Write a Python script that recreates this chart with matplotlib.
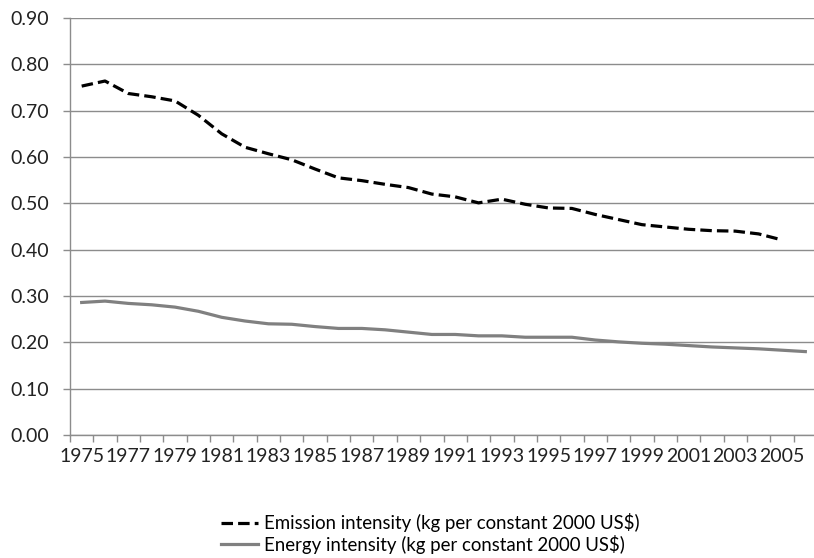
import matplotlib
matplotlib.use("Agg")
import matplotlib.pyplot as plt
import numpy as np

plt.rcParams['font.family'] = ['Lato', 'DejaVu Sans']

# Data
years = list(range(1975, 2007))
emission = [0.753, 0.764, 0.737, 0.730, 0.721, 0.690, 0.650, 0.621, 0.607, 0.594,
            0.574, 0.555, 0.549, 0.541, 0.534, 0.520, 0.514, 0.501, 0.509, 0.498,
            0.490, 0.489, 0.476, 0.465, 0.454, 0.449, 0.444, 0.441, 0.440, 0.434,
            0.421, np.nan]
energy = [0.286, 0.289, 0.284, 0.281, 0.276, 0.267, 0.254, 0.246, 0.240, 0.239,
          0.234, 0.230, 0.230, 0.227, 0.222, 0.217, 0.217, 0.214, 0.214, 0.211,
          0.211, 0.211, 0.205, 0.201, 0.198, 0.196, 0.193, 0.190, 0.188, 0.186,
          0.183, 0.180]
y_ticks = [0.0, 0.1, 0.2, 0.3, 0.4, 0.5, 0.6, 0.7, 0.8, 0.9]
emission_label = "Emission intensity (kg per constant 2000 US$)"
energy_label = "Energy intensity (kg per constant 2000 US$)"

fig = plt.figure(figsize=(8.14, 5.58), dpi=100)
W, H = 814, 558
ax = fig.add_axes([70 / W, (H - 435) / H, 747 / W, 417 / H])

grid_col = '#8c8c8c'
fs = 14
l1, = ax.plot(years, emission, color='black', lw=2.3, dashes=(3.6, 1.6),
              label=emission_label)
l2, = ax.plot(years, energy, color='#808080', lw=2.3, label=energy_label)

ax.set_xlim(1974.5, 2006.5)
ax.set_ylim(0, 0.9)
ax.set_yticks(y_ticks)
ax.set_yticklabels([f"{v:.2f}" for v in y_ticks])
ax.yaxis.grid(True, color=grid_col, lw=1)
ax.set_axisbelow(True)

# ticks at category boundaries, labels every other year at centres
ax.set_xticks(np.arange(1974.5, 2007, 1.0))
ax.set_xticklabels([])
ax.set_xticks(years[::2], minor=True)
ax.set_xticklabels([str(y) for y in years[::2]], minor=True)
ax.tick_params(axis='x', which='major', length=5, color=grid_col, width=1)
ax.tick_params(axis='x', which='minor', length=0, pad=9)
ax.tick_params(axis='y', length=5, color=grid_col, width=1, pad=10)
ax.tick_params(which='both', labelsize=fs, labelcolor='#222222')

for s in ['top', 'right']:
    ax.spines[s].set_visible(False)
for s in ['left', 'bottom']:
    ax.spines[s].set_color(grid_col)
    ax.spines[s].set_linewidth(1)

fig.legend(handles=[l1, l2], loc='upper center', bbox_to_anchor=(430 / W, 1 - 504 / H),
           frameon=False, fontsize=13.4, handlelength=2.0, handletextpad=0.3,
           labelspacing=0.12, borderpad=0)

fig.savefig("out.png", dpi=100)
